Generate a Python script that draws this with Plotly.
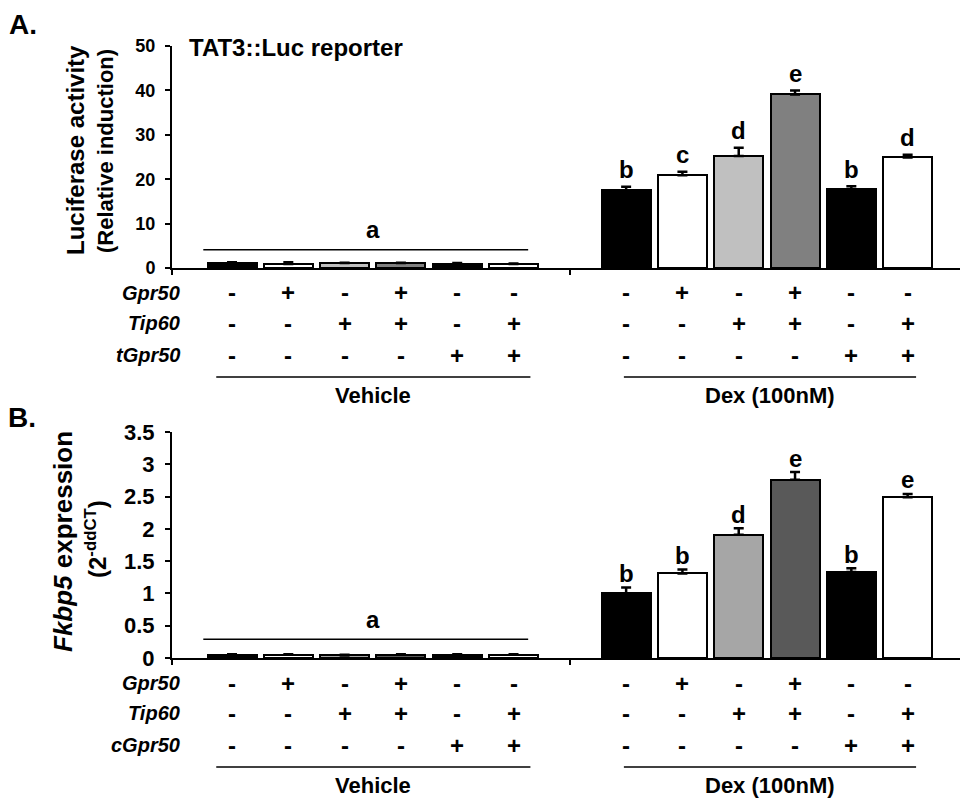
import plotly.graph_objects as go

# ---------------- data ----------------
positions = [1, 2, 3, 4, 5, 6, 8, 9, 10, 11, 12, 13]
vehicle_positions = [1, 2, 3, 4, 5, 6]

tat3_values = [1.2, 0.9, 1.1, 1.1, 1.0, 0.9, 17.5, 20.9, 25.2, 39.1, 17.7, 24.9]
tat3_errors = [0.1, 0.4, 0.1, 0.1, 0.1, 0.1, 0.8, 0.8, 1.9, 0.9, 0.7, 0.6]
tat3_colors = ["#000000", "#ffffff", "#c0c0c0", "#808080", "#000000", "#ffffff"] * 2
tat3_letters = ["", "", "", "", "", "", "b", "c", "d", "e", "b", "d"]

fkbp5_values = [0.05, 0.05, 0.04, 0.05, 0.05, 0.05, 1.0, 1.31, 1.91, 2.76, 1.33, 2.49]
fkbp5_errors = [0.01, 0.01, 0.01, 0.01, 0.01, 0.01, 0.09, 0.06, 0.10, 0.12, 0.06, 0.05]
fkbp5_colors = ["#000000", "#ffffff", "#a6a6a6", "#595959", "#000000", "#ffffff"] * 2
fkbp5_letters = ["", "", "", "", "", "", "b", "b", "d", "e", "b", "e"]

gpr50_row = ["-", "+", "-", "+", "-", "-"] * 2
tip60_row = ["-", "-", "+", "+", "-", "+"] * 2
third_row = ["-", "-", "-", "-", "+", "+"] * 2

top_row_names = ["Gpr50", "Tip60", "tGpr50"]
bottom_row_names = ["Gpr50", "Tip60", "cGpr50"]

tat3_yticks = [0, 10, 20, 30, 40, 50]
fkbp5_yticks = [0, 0.5, 1, 1.5, 2, 2.5, 3, 3.5]
fkbp5_yticklabels = ["0", "0.5", "1", "1.5", "2", "2.5", "3", "3.5"]

tat3_a_level = 4.1
fkbp5_a_level = 0.29
group_names = ["Vehicle", "Dex (100nM)"]
group_spans = [(0.72, 6.3), (7.96, 13.15)]
a_span = (0.49, 6.26)

# ---------------- layout helpers ----------------
W, H = 960, 799
FONT = "Liberation Sans, Arial, sans-serif"


def py(p):
    return 1 - p / H


def px(p):
    return p / W


x_range = [-0.066, 13.93]

fig = go.Figure()

fig.add_trace(go.Bar(
    x=positions, y=tat3_values, width=0.87,
    marker=dict(color=tat3_colors, line=dict(color="black", width=2)),
    error_y=dict(type="data", array=tat3_errors, arrayminus=[0] * 12,
                 symmetric=False, color="black", thickness=2.5, width=5),
    xaxis="x", yaxis="y", showlegend=False, hoverinfo="skip"))

fig.add_trace(go.Bar(
    x=positions, y=fkbp5_values, width=0.87,
    marker=dict(color=fkbp5_colors, line=dict(color="black", width=2)),
    error_y=dict(type="data", array=fkbp5_errors, arrayminus=[0] * 12,
                 symmetric=False, color="black", thickness=2.5, width=5),
    xaxis="x2", yaxis="y2", showlegend=False, hoverinfo="skip"))

top_axis_px, bot_axis_px = 268, 658

axis_common = dict(showgrid=False, zeroline=False, showline=True, linecolor="black",
                   linewidth=2, ticks="outside", tickcolor="black", tickwidth=2,
                   ticklen=5, mirror=False, automargin=False)

fig.update_layout(
    width=W, height=H, margin=dict(l=0, r=0, t=0, b=0, autoexpand=False),
    paper_bgcolor="white", plot_bgcolor="white", bargap=0,
    font=dict(family=FONT, color="black"),
    xaxis=dict(domain=[px(172), 1.0], range=x_range, anchor="y",
               tickvals=[x_range[0], 7], showticklabels=False, **axis_common),
    yaxis=dict(domain=[py(top_axis_px), py(46)], range=[0, 50], anchor="x",
               tickvals=tat3_yticks, ticklabelstandoff=6,
               tickfont=dict(size=18, family=FONT, weight="bold"), **axis_common),
    xaxis2=dict(domain=[px(172), 1.0], range=x_range, anchor="y2",
                tickvals=[x_range[0], 7], showticklabels=False, **axis_common),
    yaxis2=dict(domain=[py(bot_axis_px), py(432)], range=[0, 3.5], anchor="x2",
                tickvals=fkbp5_yticks, ticktext=fkbp5_yticklabels, ticklabelstandoff=6,
                tickfont=dict(size=22, family=FONT, weight="bold"), **axis_common),
)

ann = []
shapes = []

# panel letters and titles
ann.append(dict(text="<b>A.</b>", x=px(7), y=py(24), xref="paper", yref="paper",
                xanchor="left", yanchor="middle", showarrow=False, font=dict(size=28)))
ann.append(dict(text="<b>B.</b>", x=px(6), y=py(417), xref="paper", yref="paper",
                xanchor="left", yanchor="middle", showarrow=False, font=dict(size=28)))
ann.append(dict(text="<b>TAT3::Luc reporter</b>", x=px(187), y=py(47), xref="paper",
                yref="paper", xanchor="left", yanchor="middle", showarrow=False,
                font=dict(size=24)))

# y titles
ann.append(dict(text="<b>Luciferase activity</b>", x=px(75), y=py(150), xref="paper",
                yref="paper", xanchor="center", yanchor="middle", textangle=-90,
                showarrow=False, font=dict(size=24)))
ann.append(dict(text="<b>(Relative induction)</b>", x=px(106), y=py(151), xref="paper",
                yref="paper", xanchor="center", yanchor="middle", textangle=-90,
                showarrow=False, font=dict(size=22)))
ann.append(dict(text="<b><i>Fkbp5</i> expression</b>", x=px(63), y=py(542), xref="paper",
                yref="paper", xanchor="center", yanchor="middle", textangle=-90,
                showarrow=False, font=dict(size=26)))
ann.append(dict(text="<b>(2<sup>-ddCT</sup>)</b>", x=px(96), y=py(539), xref="paper",
                yref="paper", xanchor="center", yanchor="middle", textangle=-90,
                showarrow=False, font=dict(size=24)))


def add_panel(xref, yref, axis_px, values, errors, letters, a_level, row_names, letter_shift):
    # letters above bars
    for p, v, e, l in zip(positions, values, errors, letters):
        if l:
            ann.append(dict(text=f"<b>{l}</b>", x=p, y=v + e, xref=xref, yref=yref,
                            yanchor="middle", yshift=letter_shift, showarrow=False,
                            font=dict(size=24)))
    # "a" line over vehicle bars
    shapes.append(dict(type="line", xref=xref, yref=yref, x0=a_span[0], x1=a_span[1],
                       y0=a_level, y1=a_level, line=dict(color="black", width=1.5)))
    ann.append(dict(text="<b>a</b>", x=(vehicle_positions[2] + vehicle_positions[3]) / 2,
                    y=a_level, xref=xref, yref=yref, yanchor="middle", yshift=20,
                    showarrow=False, font=dict(size=24)))
    # +/- rows
    rows = [gpr50_row, tip60_row, third_row]
    offsets = [25, 55, 87]
    for name, row, off in zip(row_names, rows, offsets):
        ann.append(dict(text=f"<b><i>{name}</i></b>", x=px(182), y=py(axis_px + off),
                        xref="paper", yref="paper", xanchor="right", yanchor="middle",
                        showarrow=False, font=dict(size=20)))
        for p, s in zip(positions, row):
            ann.append(dict(text=f"<b>{s}</b>", x=p, y=py(axis_px + off), xref=xref,
                            yref="paper", yanchor="middle", showarrow=False,
                            font=dict(size=24)))
    # group lines and names
    for gname, (g0, g1) in zip(group_names, group_spans):
        shapes.append(dict(type="line", xref=xref, yref="paper", x0=g0, x1=g1,
                           y0=py(axis_px + 109), y1=py(axis_px + 109),
                           line=dict(color="black", width=1.5)))
        ann.append(dict(text=f"<b>{gname}</b>", x=(g0 + g1) / 2, y=py(axis_px + 127),
                        xref=xref, yref="paper", yanchor="middle", showarrow=False,
                        font=dict(size=22)))


add_panel("x", "y", top_axis_px, tat3_values, tat3_errors, tat3_letters,
          tat3_a_level, top_row_names, 17)
add_panel("x2", "y2", bot_axis_px, fkbp5_values, fkbp5_errors, fkbp5_letters,
          fkbp5_a_level, bottom_row_names, 14)

fig.update_layout(annotations=ann, shapes=shapes)

fig.write_html(
    "out.html",
    config={"displayModeBar": False},
    post_script="document.body.style.margin='0';document.body.style.padding='0';"
                "document.documentElement.style.overflow='hidden';",
)
